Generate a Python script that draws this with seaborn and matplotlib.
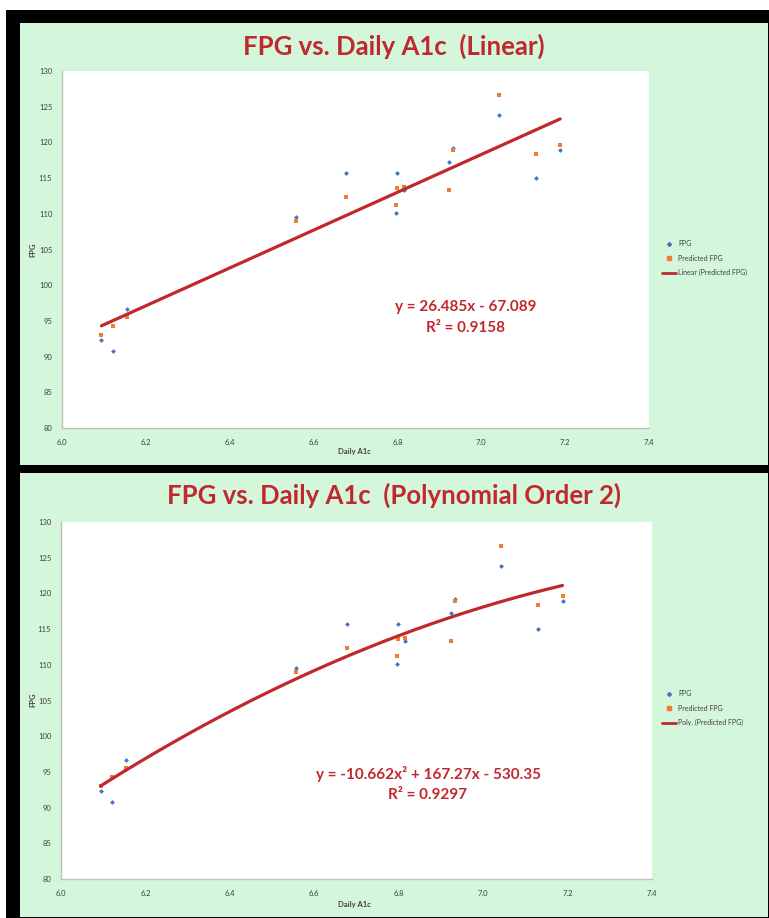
import numpy as np
import pandas as pd
import matplotlib
matplotlib.use("Agg")
import matplotlib.pyplot as plt
import seaborn as sns
from matplotlib.lines import Line2D
from matplotlib.patches import Rectangle

# ---------------- data ----------------
daily_a1c = [6.094, 6.121, 6.154, 6.557, 6.677, 6.799, 6.796, 6.816, 6.923, 6.933, 7.042, 7.131, 7.188]
fpg = [92.3, 90.8, 96.6, 109.5, 115.65, 115.65, 110.1, 113.4, 117.3, 119.2, 123.85, 114.95, 119.0]
predicted_fpg = [93.0, 94.3, 95.6, 109.0, 112.4, 113.6, 111.2, 113.7, 113.4, 118.9, 126.65, 118.4, 119.57]

linear_coef = [26.485, -67.089]
poly_coef = [-10.662, 167.27, -530.35]
linear_r2 = "0.9158"
poly_r2 = "0.9297"

titles = ["FPG vs. Daily A1c  (Linear)", "FPG vs. Daily A1c  (Polynomial Order 2)"]
equations = ["y = 26.485x - 67.089", "y = -10.662x² + 167.27x - 530.35"]
r2_texts = ["R² = " + linear_r2, "R² = " + poly_r2]
trend_labels = ["Linear (Predicted FPG)", "Poly. (Predicted FPG)"]
series_labels = ["FPG", "Predicted FPG"]
x_ticks = [6.0, 6.2, 6.4, 6.6, 6.8, 7.0, 7.2, 7.4]
y_ticks = [80, 85, 90, 95, 100, 105, 110, 115, 120, 125, 130]
x_label = "Daily A1c"
y_label = "FPG"

# ---------------- style ----------------
sns.set_style("white")
plt.rcParams['font.family'] = ['Lato', 'DejaVu Sans']

W, H = 769, 918
RED = "#C0282D"
BLUE = "#4472C4"
ORANGE = "#ED7D31"
GREEN = "#D4F6DA"
AXGRAY = "#BFBFBF"
TXT = "#404040"

fig = plt.figure(figsize=(W / 100, H / 100), dpi=100)
fig.patch.set_facecolor("white")


def frect(x0, y0, x1, y1):
    return [x0 / W, 1 - y1 / H, (x1 - x0) / W, (y1 - y0) / H]


def fx(x):
    return x / W


def fy(y):
    return 1 - y / H


# black frame + green panels
fig.patches.append(Rectangle((6 / W, 0), (W - 6) / W, (H - 10) / H, transform=fig.transFigure,
                             facecolor="black", edgecolor="none", zorder=-10))
panels = [(20, 23, 768, 465), (20, 473, 768, 917)]
for (x0, y0, x1, y1) in panels:
    fig.patches.append(Rectangle((x0 / W, 1 - y1 / H), (x1 - x0) / W, (y1 - y0) / H,
                                 transform=fig.transFigure, facecolor=GREEN,
                                 edgecolor="none", zorder=-9))

ax_boxes = [(62, 71, 649, 428), (61, 522, 652, 879)]
title_y = [46, 495]
eq_pos = [(466, 307, 328), (428, 774, 795)]
xlabel_y = [452, 905]
ylabel_y = [250, 700]
legend_y = [240, 690]
coefs = [linear_coef, poly_coef]

df = pd.DataFrame({"Daily A1c": daily_a1c, "FPG": fpg, "Predicted FPG": predicted_fpg})

for i in range(2):
    ax = fig.add_axes(frect(*ax_boxes[i]))
    ax.set_facecolor("white")

    xs = np.linspace(min(daily_a1c), max(daily_a1c), 200)
    trend = pd.DataFrame({"x": xs, "y": np.polyval(coefs[i], xs)})

    sns.scatterplot(data=df, x="Daily A1c", y="FPG", ax=ax, marker="D", s=6,
                    color=BLUE, linewidth=0, zorder=3)
    sns.scatterplot(data=df, x="Daily A1c", y="Predicted FPG", ax=ax, marker="s", s=10,
                    color=ORANGE, linewidth=0, zorder=3)
    sns.lineplot(data=trend, x="x", y="y", ax=ax, color=RED, linewidth=2.3, zorder=4)

    ax.set_xlim(6.0, 7.4)
    ax.set_ylim(80, 130)
    ax.set_xticks(x_ticks)
    ax.set_xticklabels([f"{v:.1f}" for v in x_ticks])
    ax.set_yticks(y_ticks)
    ax.set_yticklabels([str(v) for v in y_ticks])
    ax.set_xlabel("")
    ax.set_ylabel("")
    for s in ["top", "right"]:
        ax.spines[s].set_visible(False)
    for s in ["left", "bottom"]:
        ax.spines[s].set_color(AXGRAY)
        ax.spines[s].set_linewidth(1.0)
    ax.tick_params(axis="both", which="major", direction="out", length=3, width=0.8,
                   color=AXGRAY, labelsize=5.5, labelcolor=TXT, pad=4)
    ax.tick_params(axis="x", pad=5)

    # title
    fig.text(fx(394), fy(title_y[i]), titles[i], ha="center", va="center",
             fontsize=18.5, fontweight="bold", color=RED)
    # axis labels
    fig.text(fx(354), fy(xlabel_y[i]), x_label, ha="center", va="center",
             fontsize=5.5, fontweight="bold", color=TXT)
    fig.text(fx(33), fy(ylabel_y[i]), y_label, ha="center", va="center", rotation=90,
             fontsize=5.5, fontweight="bold", color=TXT)
    # equation
    ex, ey1, ey2 = eq_pos[i]
    fig.text(fx(ex), fy(ey1), equations[i], ha="center", va="center",
             fontsize=11, fontweight="bold", color=RED)
    fig.text(fx(ex), fy(ey2), r2_texts[i], ha="center", va="center",
             fontsize=11, fontweight="bold", color=RED)
    # legend
    handles = [
        Line2D([], [], marker="D", color=BLUE, linestyle="none", markersize=2.0),
        Line2D([], [], marker="s", color=ORANGE, linestyle="none", markersize=2.8),
        Line2D([], [], color=RED, linewidth=2.0),
    ]
    labels = series_labels + [trend_labels[i]]
    fig.legend(handles, labels, loc="upper left", bbox_to_anchor=(fx(662), fy(legend_y[i])),
               frameon=False, fontsize=5, handlelength=2.0, handletextpad=0.3,
               labelspacing=1.1, borderaxespad=0, borderpad=0, labelcolor=TXT)

fig.savefig("out.png", dpi=100, facecolor=fig.get_facecolor())
